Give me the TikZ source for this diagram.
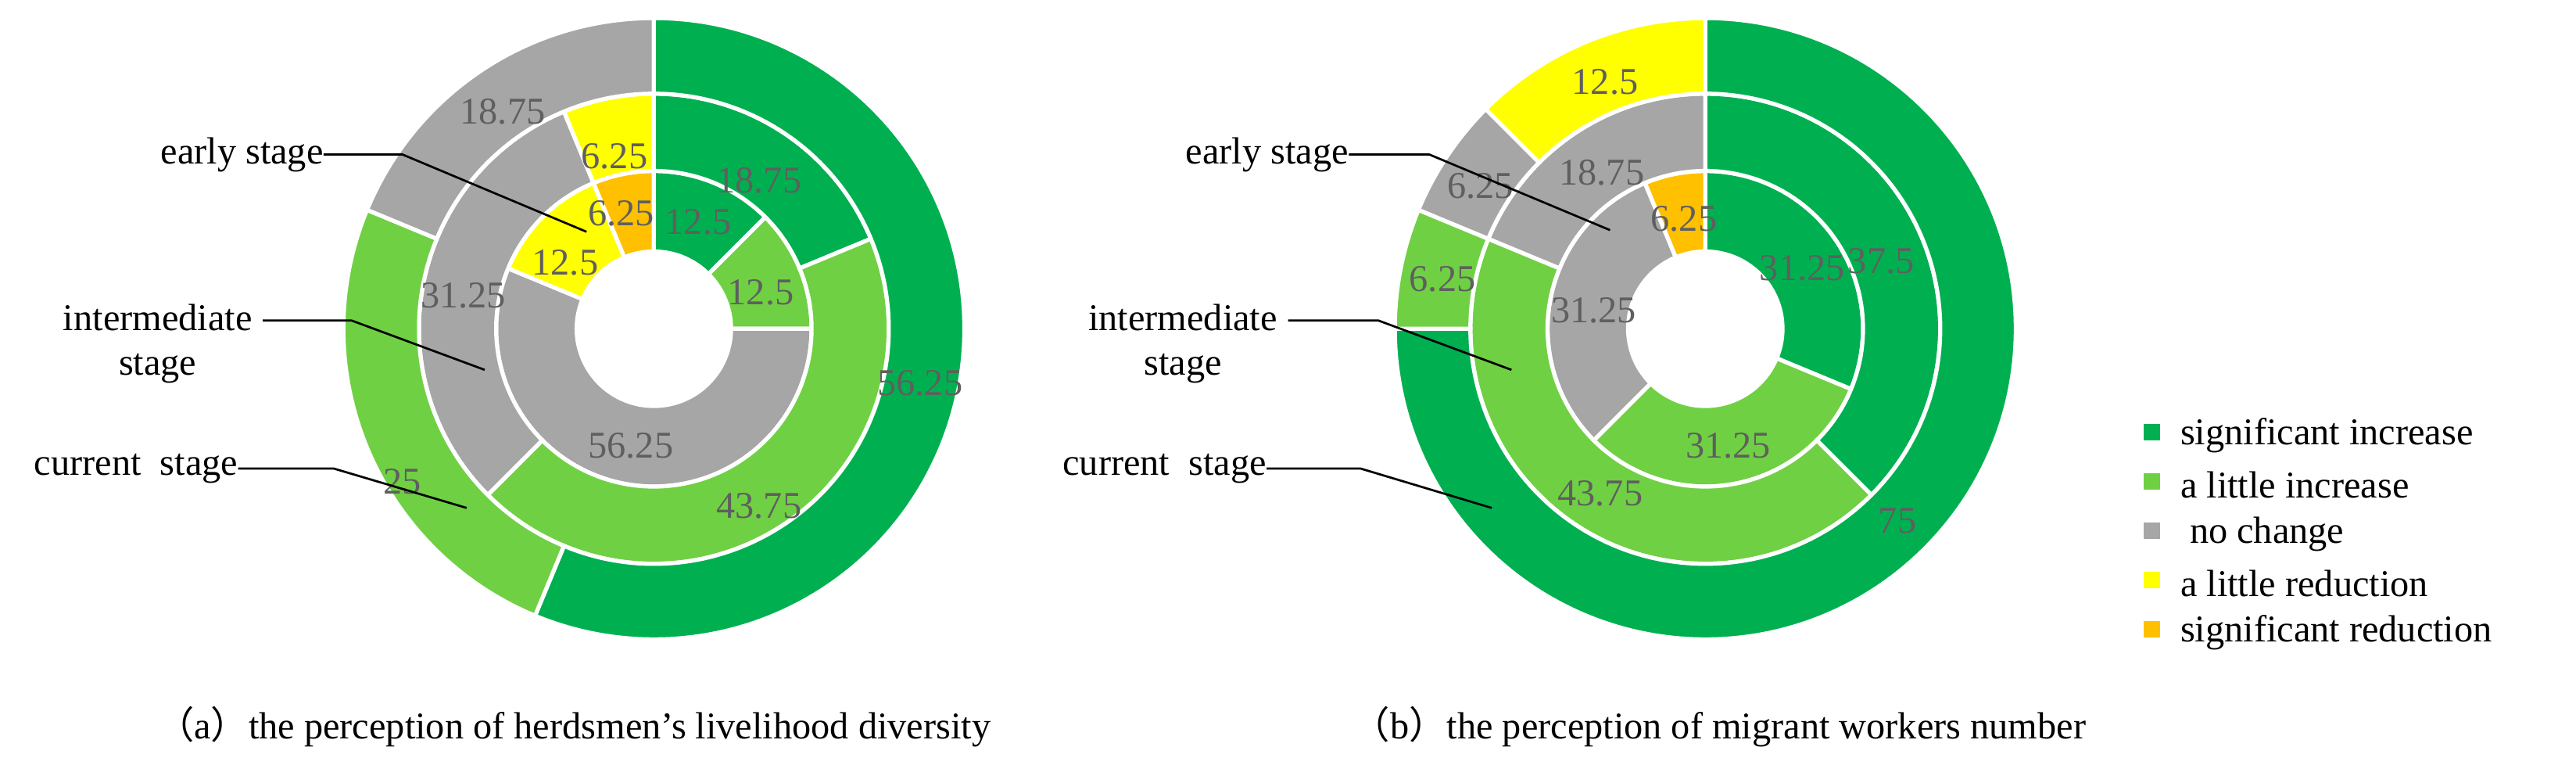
\documentclass[tikz,border=0pt]{standalone}
\usepackage{fontspec}
\setmainfont{Liberation Serif}
\newfontfamily\cjk{Noto Sans CJK SC}
\usetikzlibrary{calc}
\definecolor{dgreen}{RGB}{0,176,80}
\definecolor{lgreen}{RGB}{112,208,68}
\definecolor{ngray}{RGB}{166,166,166}
\definecolor{nyellow}{RGB}{255,255,0}
\definecolor{norange}{RGB}{255,192,0}
\definecolor{lblgray}{RGB}{95,95,95}
\newcommand\seg[7]{%
 \filldraw[fill=#7,draw=white,line width=2.5pt]
  ($(#1,#2)+({90-3.6*#5}:#4)$) arc[start angle={90-3.6*#5}, end angle={90-3.6*#6}, radius=#4pt]
  -- ($(#1,#2)+({90-3.6*#6}:#3)$) arc[start angle={90-3.6*#6}, end angle={90-3.6*#5}, radius=#3pt] -- cycle;}
\begin{document}
\begin{tikzpicture}[x=1pt,y=1pt,
  val/.style={text=lblgray,font=\fontsize{23}{26}\selectfont,inner sep=0pt},
  stg/.style={font=\fontsize{23}{27}\selectfont,inner sep=0pt,align=center},
  lead/.style={black,line width=1.3pt},
  leg/.style={font=\fontsize{23}{26}\selectfont,inner sep=0pt,anchor=west},
  sq/.style={minimum size=10pt,inner sep=0pt}]
\useasboundingbox[fill=white] (0,0) rectangle (1568,-465);
% ---- chart a ----
% inner
\seg{398}{-200}{47}{96}{0}{12.5}{dgreen}
\seg{398}{-200}{47}{96}{12.5}{25}{lgreen}
\seg{398}{-200}{47}{96}{25}{81.25}{ngray}
\seg{398}{-200}{47}{96}{81.25}{93.75}{nyellow}
\seg{398}{-200}{47}{96}{93.75}{100}{norange}
% middle
\seg{398}{-200}{96}{143}{0}{18.75}{dgreen}
\seg{398}{-200}{96}{143}{18.75}{62.5}{lgreen}
\seg{398}{-200}{96}{143}{62.5}{93.75}{ngray}
\seg{398}{-200}{96}{143}{93.75}{100}{nyellow}
% outer
\seg{398}{-200}{143}{189}{0}{56.25}{dgreen}
\seg{398}{-200}{143}{189}{56.25}{81.25}{lgreen}
\seg{398}{-200}{143}{189}{81.25}{100}{ngray}
% values a
\node[val] (a1) at (306,-68) {18.75};
\node[val] (a2) at (374,-95) {6.25};
\node[val] (a3) at (462,-110) {18.75};
\node[val] (a4) at (378,-130) {6.25};
\node[val] (a5) at (425,-135) {12.5};
\node[val] (a6) at (344,-160) {12.5};
\node[val] (a7) at (463,-178) {12.5};
\node[val] (a8) at (282,-180) {31.25};
\node[val] (a9) at (560,-233) {56.25};
\node[val] (a10) at (384,-271) {56.25};
\node[val] (a11) at (245,-293) {25};
\node[val] (a12) at (462,-308) {43.75};
% stage labels a
\node[stg,anchor=east] (ea) at (197,-94) {early stage};
\node[stg] (ia) at (96,-209) {intermediate\\stage};
\node[stg,anchor=east] (ca) at (145,-285) {current\ \ stage};
\coordinate (ea1) at (245,-94); \coordinate (ea2) at (357,-141);
\coordinate (ia0) at (160,-195); \coordinate (ia1) at (214,-195); \coordinate (ia2) at (295,-225);
\coordinate (ca1) at (203,-285); \coordinate (ca2) at (284,-309);
\draw[lead] (ea.east) -- (ea1) -- (ea2);
\draw[lead] (ia0) -- (ia1) -- (ia2);
\draw[lead] (ca.east) -- (ca1) -- (ca2);
% ---- chart b ----
\seg{1038}{-200}{47}{96}{0}{31.25}{dgreen}
\seg{1038}{-200}{47}{96}{31.25}{62.5}{lgreen}
\seg{1038}{-200}{47}{96}{62.5}{93.75}{ngray}
\seg{1038}{-200}{47}{96}{93.75}{100}{norange}
\seg{1038}{-200}{96}{143}{0}{37.5}{dgreen}
\seg{1038}{-200}{96}{143}{37.5}{81.25}{lgreen}
\seg{1038}{-200}{96}{143}{81.25}{100}{ngray}
\seg{1038}{-200}{143}{189}{0}{75}{dgreen}
\seg{1038}{-200}{143}{189}{75}{81.25}{lgreen}
\seg{1038}{-200}{143}{189}{81.25}{87.5}{ngray}
\seg{1038}{-200}{143}{189}{87.5}{100}{nyellow}
\node[val] (b1) at (977,-50) {12.5};
\node[val] (b2) at (901,-113) {6.25};
\node[val] (b3) at (975,-105) {18.75};
\node[val] (b4) at (1025,-133) {6.25};
\node[val] (b5) at (1097,-163) {31.25};
\node[val] (b6) at (1145,-159) {37.5};
\node[val] (b7) at (878,-170) {6.25};
\node[val] (b8) at (970,-189) {31.25};
\node[val] (b9) at (1052,-271) {31.25};
\node[val] (b10) at (974,-300) {43.75};
\node[val] (b11) at (1155,-317) {75};
\node[stg,anchor=east] (eb) at (821,-94) {early stage};
\node[stg] (ib) at (720,-209) {intermediate\\stage};
\node[stg,anchor=east] (cb) at (771,-285) {current\ \ stage};
\coordinate (eb1) at (870,-94); \coordinate (eb2) at (980,-140);
\coordinate (ib0) at (784,-195); \coordinate (ib1) at (839,-195); \coordinate (ib2) at (920,-225);
\coordinate (cb1) at (828,-285); \coordinate (cb2) at (908,-309);
\draw[lead] (eb.east) -- (eb1) -- (eb2);
\draw[lead] (ib0) -- (ib1) -- (ib2);
\draw[lead] (cb.east) -- (cb1) -- (cb2);
% legend
\node[sq,fill=dgreen] (l1) at (1310,-263) {};
\node[sq,fill=lgreen] (l2) at (1310,-293) {};
\node[sq,fill=ngray] (l3) at (1310,-323) {};
\node[sq,fill=nyellow] (l4) at (1310,-353) {};
\node[sq,fill=norange] (l5) at (1310,-383) {};
\node[leg] (t1) at (1327,-265) {significant increase};
\node[leg] (t2) at (1327,-295) {a little increase};
\node[leg] (t3) at (1327,-325) {\ no change};
\node[leg] (t4) at (1327,-355) {a little reduction};
\node[leg] (t5) at (1327,-385) {significant reduction};
% captions
\node[stg,anchor=west] (capa) at (95,-442) {{\cjk （}a{\cjk ）}the perception of herdsmen’s livelihood diversity};
\node[stg,anchor=west] (capb) at (823,-442) {{\cjk （}b{\cjk ）}the perception of migrant workers number};
\end{tikzpicture}
\end{document}
